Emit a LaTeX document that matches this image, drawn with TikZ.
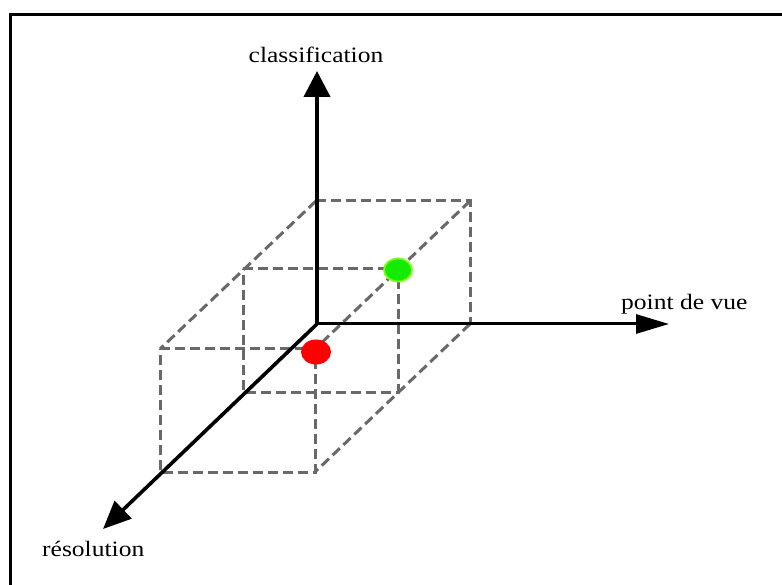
\documentclass[tikz,border=0pt]{standalone}
\usepackage{graphicx}
\usepackage{fontspec}
\setmainfont{Liberation Serif}
\usetikzlibrary{arrows.meta,shapes.geometric}
\definecolor{cubegray}{RGB}{105,105,105}
\definecolor{dotred}{RGB}{255,0,0}
\definecolor{dotgreen}{RGB}{20,235,0}
\definecolor{dotrim}{RGB}{120,255,20}
\tikzset{
  cubeedge/.style={draw=cubegray, line width=3pt, dash pattern=on 10pt off 5pt},
  axisline/.style={draw=black, line width=3.4pt},
  lbl/.style={inner sep=0pt, font=\fontsize{22}{24}\selectfont},
}
\newcommand{\wide}[1]{\scalebox{1.16}[1]{#1}}
\begin{document}
\begin{tikzpicture}[x=1pt,y=-1pt]
\useasboundingbox (0,0) rectangle (782,585);
\begin{scope}
\clip (0,0) rectangle (782,585);
\draw[line width=3.2pt] (10.7,14.3) rectangle (900,700);
\end{scope}
% cube corners
\coordinate (BTL) at (316,201);
\coordinate (BTR) at (470,201);
\coordinate (BBR) at (470,324);
\coordinate (MTL) at (243,269);
\coordinate (MTR) at (398,269);
\coordinate (MBR) at (398,392);
\coordinate (MBL) at (243,392);
\coordinate (FTL) at (160,349);
\coordinate (FTR) at (315,349);
\coordinate (FBR) at (315,472);
\coordinate (FBL) at (160,472);
% dashed cube
\draw[cubeedge] (BTL) -- (BTR) -- (BBR);
\draw[cubeedge] (MTL) -- (MTR) -- (MBR) -- (MBL) -- cycle;
\draw[cubeedge] (FTL) -- (FTR) -- (FBR) -- (FBL) -- cycle;
\draw[cubeedge] (BTL) -- (FTL);
\draw[cubeedge] (BTR) -- (FTR);
\draw[cubeedge] (BBR) -- (FBR);
% axes
\coordinate (O) at (317,324);
\coordinate (Ytip) at (317,71);
\coordinate (Xtip) at (669,324);
\coordinate (Ztip) at (103,529);
\draw[axisline, line width=4pt, -{Triangle[length=26pt,width=26pt]}] (O) -- (Ytip);
\draw[axisline, line width=3pt, -{Triangle[length=33pt,width=19pt]}] (O) -- (Xtip);
\draw[axisline, line width=3.6pt, -{Triangle[length=28pt,width=24pt]}] (O) -- (Ztip);
% labels
\node[lbl, anchor=base] (lclass) at (316,63) {\wide{classification}};
\node[lbl, anchor=base west] (lpdv) at (621,310) {\wide{point de vue}};
\node[lbl, anchor=base west] (lres) at (42,556) {\wide{résolution}};
% dots
\node[ellipse, draw=none, fill=dotred, minimum width=30pt, minimum height=25pt, inner sep=0pt] (red) at (316,352) {};
\node[ellipse, draw=dotrim, line width=1.8pt, fill=dotgreen, minimum width=28pt, minimum height=23pt, inner sep=0pt] (green) at (398,270) {};
\end{tikzpicture}
\end{document}
